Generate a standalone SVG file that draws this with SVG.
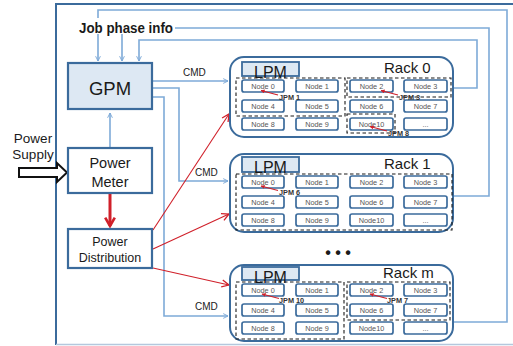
<svg xmlns="http://www.w3.org/2000/svg" width="513" height="346" viewBox="0 0 513 346">
  <style>
    text { font-family: "Liberation Sans", Arial, sans-serif; }
    .box { fill: #ffffff; stroke: #3b6b9c; stroke-width: 2.2; }
    .boxfill { fill: #dde8f3; stroke: #3b6b9c; stroke-width: 2.2; }
    .rack { fill: #ffffff; stroke: #3b6b9c; stroke-width: 2; }
    .lpm { fill: #dde8f3; stroke: #3b6b9c; stroke-width: 1.8; }
    .node rect { fill: #ffffff; stroke: #3b6b9c; stroke-width: 1.7; }
    .node text { font-size: 7.3px; fill: #555555; text-anchor: middle; }
    .grp { fill: none; stroke: #1a1a1a; stroke-width: 1.1; stroke-dasharray: 3.5 2.5; }
    .jpm { font-size: 7.3px; font-weight: bold; fill: #333333; }
    .blue { fill: none; stroke: #7eaad8; stroke-width: 1.6; }
    .red { fill: none; stroke: #d0202a; stroke-width: 1.1; }
    .big { fill: #1a1a1a; text-anchor: middle; }
    .cmd { font-size: 10px; fill: #1a1a1a; }
    .title { fill: #1a1a1a; }
  </style>
  <defs>
    <marker id="ab" viewBox="0 0 10 10" refX="9" refY="5" markerWidth="6" markerHeight="6" orient="auto" markerUnits="userSpaceOnUse">
      <path d="M1,1 L9,5 L1,9" fill="none" stroke="#7eaad8" stroke-width="1.6"/>
    </marker>
    <marker id="ar" viewBox="0 0 10 10" refX="9" refY="5" markerWidth="9" markerHeight="9" orient="auto" markerUnits="userSpaceOnUse">
      <path d="M1,1 L9,5 L1,9" fill="none" stroke="#d0202a" stroke-width="1.4"/>
    </marker>
    <marker id="ars" viewBox="0 0 10 10" refX="9" refY="5" markerWidth="4" markerHeight="4" orient="auto" markerUnits="userSpaceOnUse">
      <path d="M0,0 L10,5 L0,10 Z" fill="#d0202a"/>
    </marker>
    <marker id="arb" viewBox="0 0 10 10" refX="8" refY="5" markerWidth="12" markerHeight="12" orient="auto" markerUnits="userSpaceOnUse">
      <path d="M1,1 L8,5 L1,9" fill="none" stroke="#d0202a" stroke-width="2.2"/>
    </marker>
  </defs>

  <rect width="513" height="346" fill="#ffffff"/>

  <!-- enclosing frame -->
  <path d="M56,345 V4 H520" fill="none" stroke="#3b6b9c" stroke-width="2"/>
  <path d="M56,344.5 H513" fill="none" stroke="#b4c8dd" stroke-width="1.5"/>

  <!-- connectors -->
  <g id="connectors">
    <!-- job phase info feedback from racks -->
    <path class="blue" d="M453,322 H507 V10 H98 V61" marker-end="url(#ab)"/>
    <path class="blue" d="M453,196 H489 V28 H122 V61" marker-end="url(#ab)"/>
    <path class="blue" d="M453,88 H477 V40 H139 V61" marker-end="url(#ab)"/>
    <!-- power meter to GPM -->
    <path class="blue" d="M110,148 V113" marker-end="url(#ab)"/>
    <!-- CMD lines -->
    <path class="blue" d="M152,81 H228" marker-end="url(#ab)"/>
    <path class="blue" d="M152,88 H179 V181 H228" marker-end="url(#ab)"/>
    <path class="blue" d="M152,97 H164 V316 H228" marker-end="url(#ab)"/>
    <text class="cmd" x="183" y="76">CMD</text>
    <text class="cmd" x="195" y="176">CMD</text>
    <text class="cmd" x="195" y="310">CMD</text>
    <!-- power meter to distribution -->
    <path d="M110,194 V226" fill="none" stroke="#d0202a" stroke-width="3" marker-end="url(#arb)"/>
    <!-- distribution to racks -->
    <path class="red" d="M153,230 L229,114" marker-end="url(#ar)"/>
    <path class="red" d="M153,249 L229,214" marker-end="url(#ar)"/>
    <path class="red" d="M153,268 L229,285" marker-end="url(#ar)"/>
    <!-- power supply input -->
    <polygon points="19,168 57,168 57,163 67,172.5 57,182 57,177 19,177" fill="#ffffff" stroke="#111111" stroke-width="2"/>
  </g>

  <!-- job phase info label, masking the feedback line behind it -->
  <g id="job-phase-info">
    <rect x="77" y="18" width="98" height="16" fill="#ffffff"/>
    <text x="79" y="33" font-size="14" font-weight="bold" fill="#1a1a1a" textLength="94" lengthAdjust="spacingAndGlyphs">Job phase info</text>
  </g>

  <!-- power supply label -->
  <g id="power-supply">
    <text class="big" x="33" y="143" font-size="13.5">Power</text>
    <text class="big" x="33" y="159" font-size="13.5">Supply</text>
  </g>

  <g id="gpm">
    <rect class="boxfill" x="68" y="63" width="84" height="46"/>
    <text class="big" x="110" y="95" font-size="18.5">GPM</text>
  </g>

  <g id="power-meter">
    <rect class="box" x="68" y="148" width="84" height="45"/>
    <text class="big" x="110" y="168" font-size="14.5">Power</text>
    <text class="big" x="110" y="187" font-size="14.5">Meter</text>
  </g>

  <g id="power-distribution">
    <rect class="box" x="68" y="229" width="84" height="39"/>
    <text class="big" x="110" y="246" font-size="12.5">Power</text>
    <text class="big" x="110" y="262" font-size="12.5">Distribution</text>
  </g>

  <!-- Rack 0 -->
  <g id="rack0">
    <rect class="rack" x="230" y="57" width="223" height="80" rx="14"/>
    <rect class="lpm" x="242" y="62" width="57" height="14"/>
    <text class="title" x="270.5" y="78" text-anchor="middle" font-size="16">LPM</text>
    <text class="title" x="384" y="73" font-size="15">Rack 0</text>
    <g class="node"><rect x="242" y="80" width="42" height="12" rx="2"/><text x="263" y="88.8">Node 0</text></g>
    <g class="node"><rect x="296" y="80" width="42" height="12" rx="2"/><text x="317" y="88.8">Node 1</text></g>
    <g class="node"><rect x="350" y="80" width="43" height="12" rx="2"/><text x="371.5" y="88.8">Node 2</text></g>
    <g class="node"><rect x="404" y="80" width="43" height="12" rx="2"/><text x="425.5" y="88.8">Node 3</text></g>
    <g class="node"><rect x="242" y="100" width="42" height="12" rx="2"/><text x="263" y="108.8">Node 4</text></g>
    <g class="node"><rect x="296" y="100" width="42" height="12" rx="2"/><text x="317" y="108.8">Node 5</text></g>
    <g class="node"><rect x="350" y="100" width="43" height="12" rx="2"/><text x="371.5" y="108.8">Node 6</text></g>
    <g class="node"><rect x="404" y="100" width="43" height="12" rx="2"/><text x="425.5" y="108.8">Node 7</text></g>
    <g class="node"><rect x="242" y="118" width="42" height="12" rx="2"/><text x="263" y="126.8">Node 8</text></g>
    <g class="node"><rect x="296" y="118" width="42" height="12" rx="2"/><text x="317" y="126.8">Node 9</text></g>
    <g class="node"><rect x="350" y="118" width="43" height="12" rx="2"/><text x="371.5" y="126.8">Node10</text></g>
    <g class="node"><rect x="404" y="118" width="43" height="12" rx="2"/><text x="425.5" y="126.8">...</text></g>
    <rect class="grp" x="236" y="78" width="109" height="38"/>
    <rect class="grp" x="347" y="78" width="104" height="19"/>
    <rect class="grp" x="347" y="114" width="48" height="19"/>
    <text class="jpm" x="279" y="100">JPM 1</text>
    <text class="jpm" x="399" y="100">JPM 3</text>
    <text class="jpm" x="388" y="136">JPM 8</text>
    <path class="red" d="M278,95 L261,90.5" marker-end="url(#ars)"/>
    <path class="red" d="M398,95 L381,90.5" marker-end="url(#ars)"/>
    <path class="red" d="M387,131 L370,126.5" marker-end="url(#ars)"/>
  </g>

  <!-- Rack 1 -->
  <g id="rack1">
    <rect class="rack" x="230" y="154" width="223" height="78" rx="14"/>
    <rect class="lpm" x="242" y="157" width="57" height="15"/>
    <text class="title" x="270.5" y="173" text-anchor="middle" font-size="16">LPM</text>
    <text class="title" x="384" y="169" font-size="15">Rack 1</text>
    <g class="node"><rect x="242" y="176" width="42" height="12" rx="2"/><text x="263" y="184.8">Node 0</text></g>
    <g class="node"><rect x="296" y="176" width="42" height="12" rx="2"/><text x="317" y="184.8">Node 1</text></g>
    <g class="node"><rect x="350" y="176" width="43" height="12" rx="2"/><text x="371.5" y="184.8">Node 2</text></g>
    <g class="node"><rect x="404" y="176" width="43" height="12" rx="2"/><text x="425.5" y="184.8">Node 3</text></g>
    <g class="node"><rect x="242" y="196" width="42" height="12" rx="2"/><text x="263" y="204.8">Node 4</text></g>
    <g class="node"><rect x="296" y="196" width="42" height="12" rx="2"/><text x="317" y="204.8">Node 5</text></g>
    <g class="node"><rect x="350" y="196" width="43" height="12" rx="2"/><text x="371.5" y="204.8">Node 6</text></g>
    <g class="node"><rect x="404" y="196" width="43" height="12" rx="2"/><text x="425.5" y="204.8">Node 7</text></g>
    <g class="node"><rect x="242" y="214" width="42" height="12" rx="2"/><text x="263" y="222.8">Node 8</text></g>
    <g class="node"><rect x="296" y="214" width="42" height="12" rx="2"/><text x="317" y="222.8">Node 9</text></g>
    <g class="node"><rect x="350" y="214" width="43" height="12" rx="2"/><text x="371.5" y="222.8">Node10</text></g>
    <g class="node"><rect x="404" y="214" width="43" height="12" rx="2"/><text x="425.5" y="222.8">...</text></g>
    <rect class="grp" x="236" y="174" width="216" height="56"/>
    <text class="jpm" x="279" y="195">JPM 6</text>
    <path class="red" d="M278,190.5 L261,186" marker-end="url(#ars)"/>
  </g>

  <!-- ellipsis between racks -->
  <text x="338" y="258" font-size="16" font-weight="bold" fill="#1a1a1a" text-anchor="middle">• • •</text>

  <!-- Rack m -->
  <g id="rackm">
    <rect class="rack" x="230" y="265" width="223" height="76" rx="14"/>
    <rect class="lpm" x="242" y="267" width="57" height="13"/>
    <text class="title" x="270.5" y="283" text-anchor="middle" font-size="16">LPM</text>
    <text class="title" x="383" y="278" font-size="15">Rack m</text>
    <g class="node"><rect x="242" y="284" width="42" height="12" rx="2"/><text x="263" y="292.8">Node 0</text></g>
    <g class="node"><rect x="296" y="284" width="42" height="12" rx="2"/><text x="317" y="292.8">Node 1</text></g>
    <g class="node"><rect x="350" y="284" width="43" height="12" rx="2"/><text x="371.5" y="292.8">Node 2</text></g>
    <g class="node"><rect x="404" y="284" width="43" height="12" rx="2"/><text x="425.5" y="292.8">Node 3</text></g>
    <g class="node"><rect x="242" y="304" width="42" height="12" rx="2"/><text x="263" y="312.8">Node 4</text></g>
    <g class="node"><rect x="296" y="304" width="42" height="12" rx="2"/><text x="317" y="312.8">Node 5</text></g>
    <g class="node"><rect x="350" y="304" width="43" height="12" rx="2"/><text x="371.5" y="312.8">Node 6</text></g>
    <g class="node"><rect x="404" y="304" width="43" height="12" rx="2"/><text x="425.5" y="312.8">Node 7</text></g>
    <g class="node"><rect x="242" y="322" width="42" height="12" rx="2"/><text x="263" y="330.8">Node 8</text></g>
    <g class="node"><rect x="296" y="322" width="42" height="12" rx="2"/><text x="317" y="330.8">Node 9</text></g>
    <g class="node"><rect x="350" y="322" width="43" height="12" rx="2"/><text x="371.5" y="330.8">Node10</text></g>
    <g class="node"><rect x="404" y="322" width="43" height="12" rx="2"/><text x="425.5" y="330.8">...</text></g>
    <rect class="grp" x="236" y="282" width="108" height="57"/>
    <rect class="grp" x="347" y="282" width="103" height="38"/>
    <text class="jpm" x="279" y="303">JPM 10</text>
    <text class="jpm" x="387" y="303">JPM 7</text>
    <path class="red" d="M279,298.5 L262,294" marker-end="url(#ars)"/>
    <path class="red" d="M387,298.5 L370,294" marker-end="url(#ars)"/>
  </g>
</svg>
